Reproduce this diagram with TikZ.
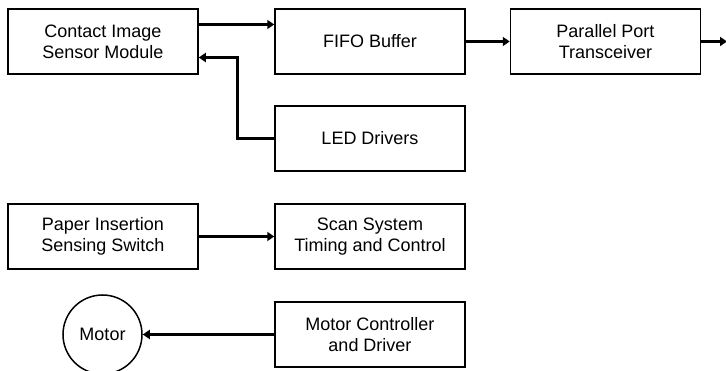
\documentclass[tikz,border=0pt]{standalone}
\usepackage{fontspec}
\setmainfont{Liberation Sans}
\usetikzlibrary{arrows.meta}
\begin{document}
\begin{tikzpicture}[x=1pt,y=-1pt,
  blk/.style={draw, line width=1.5pt, minimum width=190pt, minimum height=65pt,
    align=center, inner sep=0pt, font=\fontsize{18}{21}\selectfont},
  circ/.style={draw, circle, line width=1.5pt, minimum size=79pt, inner sep=0pt,
    font=\fontsize{18}{21}\selectfont},
  conn/.style={line width=3pt, -{Triangle[length=7pt,width=9pt]}}]
\useasboundingbox (0,0) rectangle (726,371);
\node[blk] (cis) at (103,41.5) {Contact Image\\Sensor Module};
\node[blk] (fifo) at (370,41.5) {FIFO Buffer};
\node[blk] (ppt) at (605.5,41.5) {Parallel Port\\Transceiver};
\node[blk] (led) at (370,138.5) {LED Drivers};
\node[blk] (pis) at (103,236.5) {Paper Insertion\\Sensing Switch};
\node[blk] (sst) at (370,236.5) {Scan System\\Timing and Control};
\node[blk] (mcd) at (370,334.5) {Motor Controller\\and Driver};
\node[circ] (motor) at (102.5,334.5) {Motor};
\coordinate (out) at (727,41.5);
\coordinate (bend) at (237.5,0);

\draw[conn] (cis.east |- 0,24.5) -- (fifo.west |- 0,24.5);
\draw[conn] (fifo.east) -- (ppt.west);
\draw[conn] (ppt.east) -- (out);
\draw[conn] (led.west) -| (bend |- 0,57.5) -- (cis.east |- 0,57.5);
\draw[conn] (pis.east) -- (sst.west);
\draw[conn] (mcd.west) -- (motor.east);
\end{tikzpicture}
\end{document}
